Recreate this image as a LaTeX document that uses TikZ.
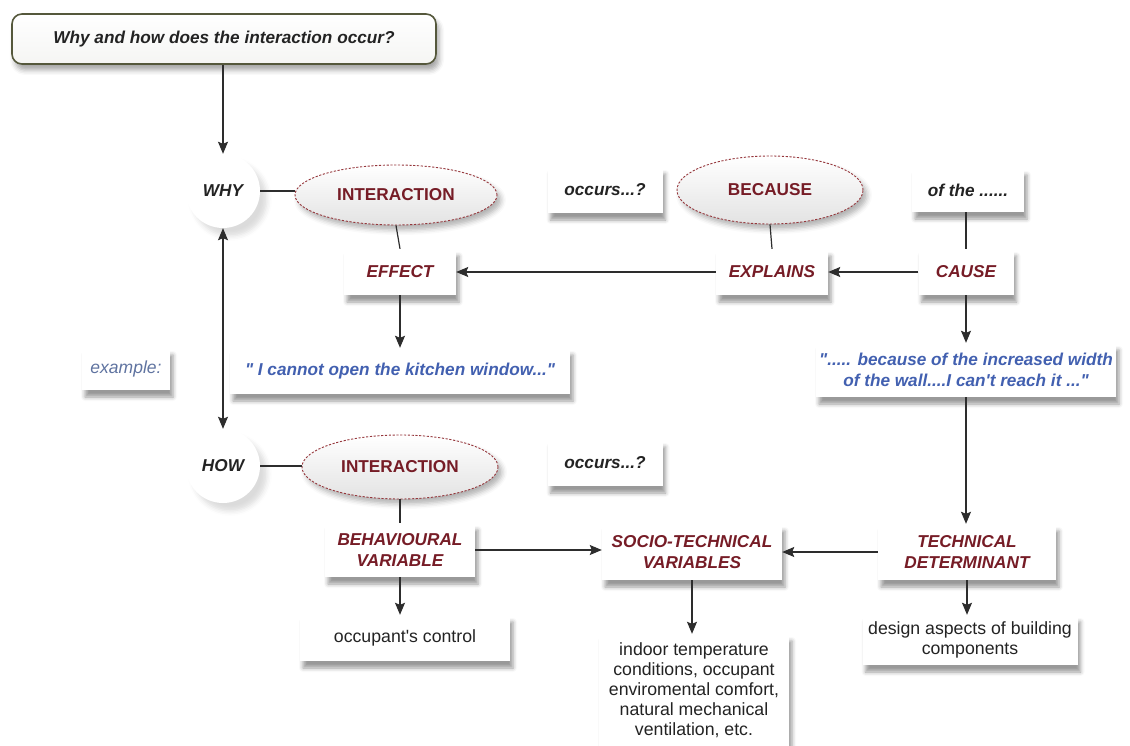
\documentclass[tikz,border=0pt]{standalone}
\usepackage{fontspec}
\setmainfont{Liberation Sans}
\usetikzlibrary{arrows.meta,shapes.geometric,shadows.blur}

\definecolor{keyred}{RGB}{118,28,38}
\definecolor{ovalred}{RGB}{150,55,60}
\definecolor{quoteblue}{RGB}{66,96,176}
\definecolor{noteblue}{RGB}{95,115,160}
\definecolor{inkgray}{RGB}{35,35,35}
\definecolor{linegray}{RGB}{45,45,45}
\definecolor{framegreen}{RGB}{85,88,60}

\newcommand{\dq}{\textquotedbl}
\newcommand{\sq}{\textquotesingle}

\tikzset{
  boldit/.style={font=\fontsize{17.2}{21.5}\selectfont\bfseries\itshape},
  plain/.style={font=\fontsize{17.7}{20}\selectfont},
  softshadow/.style={blur shadow={shadow xshift=3pt, shadow yshift=-7pt,
      shadow blur radius=4pt, shadow opacity=40}},
  card/.style={rectangle, fill=white, align=center, inner sep=0pt, softshadow},
  term/.style={card, boldit, text=keyred},
  phrase/.style={card, boldit, text=inkgray},
  quote/.style={card, boldit, text=quoteblue},
  detail/.style={card, plain, text=inkgray},
  oval/.style={ellipse, inner sep=0pt, draw=ovalred, line width=0.9pt,
      dash pattern=on 2.2pt off 1.6pt, top color=white, bottom color=gray!22,
      text=keyred, font=\fontsize{17.2}{20}\selectfont\bfseries,
      blur shadow={shadow xshift=4pt, shadow yshift=-5pt,
      shadow blur radius=5pt, shadow opacity=30}},
  bubble/.style={circle, inner sep=0pt, minimum size=74pt, fill=white,
      boldit, text=inkgray,
      blur shadow={shadow xshift=7pt, shadow yshift=-8pt,
      shadow blur radius=5pt, shadow opacity=14}},
  heading/.style={rectangle, rounded corners=10pt, draw=framegreen,
      line width=1.6pt, top color=white, bottom color=framegreen!6,
      boldit, text=inkgray, inner sep=0pt,
      blur shadow={shadow xshift=3pt, shadow yshift=-6pt,
      shadow blur radius=5pt, shadow opacity=35}},
  link/.style={draw=linegray, line width=1.2pt},
  arrow/.style={link, -{Stealth[length=12pt,width=10pt,inset=2pt]}},
  twoway/.style={link, {Stealth[length=12pt,width=10pt,inset=2pt]}-{Stealth[length=12pt,width=10pt,inset=2pt]}},
}

\begin{document}
\begin{tikzpicture}[x=1pt, y=-1pt]
\useasboundingbox (0,0) rectangle (1130,746);

% title
\node[heading, minimum width=424pt, minimum height=50pt] (title) at (224,39)
  {Why and how does the interaction occur?};

% WHY row
\node[bubble] (why) at (223,191) {WHY};
\node[oval, minimum width=202pt, minimum height=60pt] (int1) at (396,195) {INTERACTION};
\node[phrase, minimum width=115pt, minimum height=46pt] (occ1) at (605,190) {occurs...?};
\node[oval, minimum width=186pt, minimum height=68pt] (because) at (770,190) {BECAUSE};
\node[phrase, minimum width=112pt, minimum height=44pt] (ofthe) at (968,190) {of the ......};

\node[term, minimum width=112pt, minimum height=46pt] (effect) at (400,272) {EFFECT};
\node[term, minimum width=112pt, minimum height=46pt] (explains) at (772,272) {EXPLAINS};
\node[term, minimum width=95pt, minimum height=46pt] (cause) at (966,272) {CAUSE};

% examples
\node[card, font=\fontsize{17.5}{20}\selectfont\itshape, text=noteblue,
  minimum width=88pt, minimum height=42pt] (example) at (126,369) {example:};
\node[quote, minimum width=340pt, minimum height=46pt] (quote1) at (400,371)
  {\dq{} I cannot open the kitchen window...\dq};
\node[quote, minimum width=300pt, minimum height=54pt] (quote2) at (966,370)
  {\dq..... because of the increased width\\of the wall....I can\sq t reach it ...\dq};

% HOW row
\node[bubble] (how) at (223,466) {HOW};
\node[oval, minimum width=196pt, minimum height=64pt] (int2) at (400,467) {INTERACTION};
\node[phrase, minimum width=115pt, minimum height=46pt] (occ2) at (605,463) {occurs...?};

\node[term, minimum width=150pt, minimum height=54pt] (behav) at (400,550)
  {BEHAVIOURAL\\VARIABLE};
\node[term, minimum width=180pt, minimum height=56pt] (socio) at (692,552)
  {SOCIO-TECHNICAL\\VARIABLES};
\node[term, minimum width=178pt, minimum height=56pt] (tech) at (967,552)
  {TECHNICAL\\DETERMINANT};

\node[detail, minimum width=210pt, minimum height=46pt] (control) at (405,638)
  {occupant\sq s control};
\node[detail, minimum width=190pt, minimum height=112pt] (indoor) at (694,690)
  {indoor temperature\\conditions, occupant\\enviromental comfort,\\natural mechanical\\ventilation, etc.};
\node[detail, minimum width=215pt, minimum height=50pt] (design) at (970,640)
  {design aspects of building\\components};

% connectors
\draw[arrow] (title.south -| why.north) -- (why.north);
\draw[link] (why.east) -- (why.east -| int1.west);
\draw[link] (int1.south) -- (effect.north);
\draw[link] (because.south) -- (explains.north);
\draw[link] (ofthe.south -| cause.north) -- (cause.north);
\draw[arrow] (cause.west) -- (explains.east);
\draw[arrow] (explains.west) -- (effect.east);
\draw[arrow] (effect.south) -- (effect.south |- quote1.north);
\draw[arrow] (cause.south) -- (quote2.north);
\draw[arrow] (quote2.south) -- (quote2.south |- tech.north);
\draw[twoway] (why.south) -- (how.north);
\draw[link] (how.east) -- (how.east -| int2.west);
\draw[link] (int2.south) -- (int2.south |- behav.north);
\draw[arrow] (behav.east) -- (behav.east -| socio.west);
\draw[arrow] (tech.west) -- (tech.west -| socio.east);
\draw[arrow] (behav.south) -- (behav.south |- control.north);
\draw[arrow] (socio.south) -- (socio.south |- indoor.north);
\draw[arrow] (tech.south) -- (tech.south |- design.north);
\end{tikzpicture}
\end{document}
